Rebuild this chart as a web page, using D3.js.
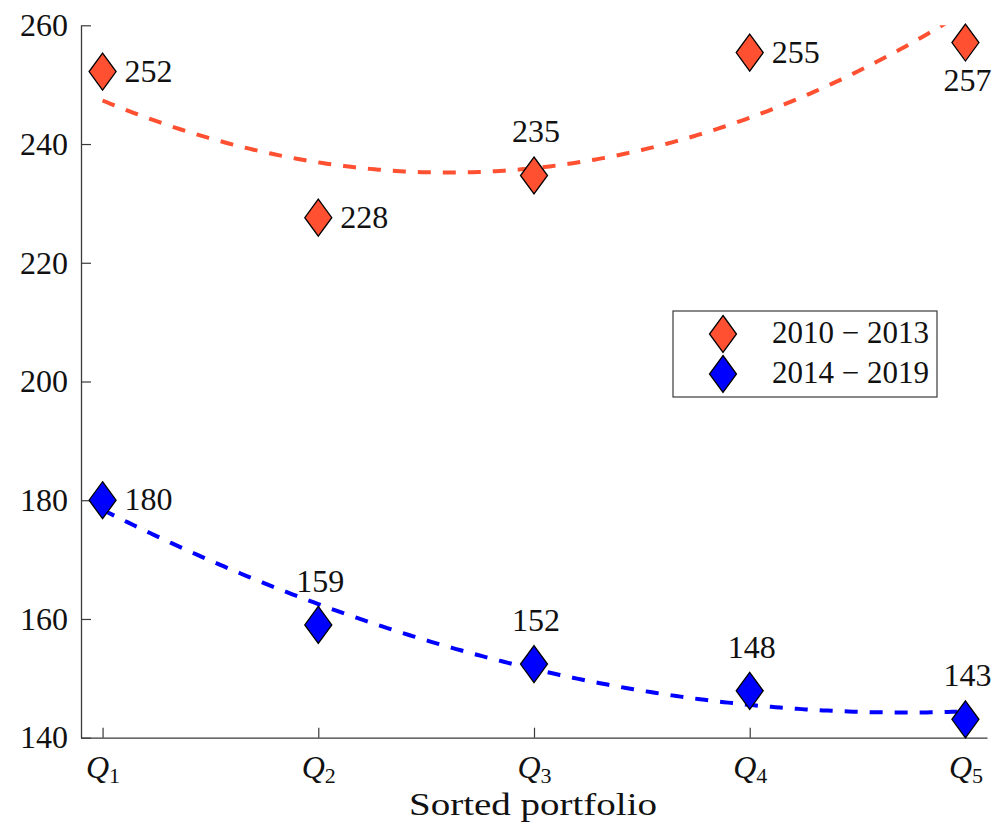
<!DOCTYPE html>
<html><head><meta charset="utf-8">
<script src="https://cdn.jsdelivr.net/npm/d3@7"></script>
<style>body{margin:0;background:#fff}</style>
</head><body>
<svg id="c" width="996" height="830"></svg>
<script>
// ---- data ----
const portfolios = [1, 2, 3, 4, 5];
const subscripts = ["1", "2", "3", "4", "5"];
const series2010 = [252.2, 227.6, 234.7, 255.4, 257.1];
const series2014 = [180.0, 159.0, 152.4, 147.9, 143.1];
const labels2010 = ["252", "228", "235", "255", "257"];
const labels2014 = ["180", "159", "152", "148", "143"];
const yTicks = [140, 160, 180, 200, 220, 240, 260];
const seriesNames = ["2010 \u2212 2013", "2014 \u2212 2019"];
const xTitle = "Sorted portfolio";

// ---- drawing ----
const FONT = "'Liberation Serif', 'Times New Roman', serif";
const RED = "#FF5031", BLUE = "#0000FF", AX = "#3a3a3a";
const svg = d3.select("#c");
const x = d3.scaleLinear().domain([0.9, 5.1]).range([81, 987]);
const y = d3.scaleLinear().domain([140, 260]).range([737.7, 25.3]);

svg.append("defs").append("clipPath").attr("id", "plotclip")
  .append("rect").attr("x", 81).attr("y", 25.3).attr("width", 906).attr("height", 712.4);

// quadratic least-squares trend from the data
function quadFit(xs, ys) {
  const S = k => d3.sum(xs, v => Math.pow(v, k));
  const T = k => d3.sum(xs, (v, i) => Math.pow(v, k) * ys[i]);
  const A = [[S(0), S(1), S(2)], [S(1), S(2), S(3)], [S(2), S(3), S(4)]];
  const b = [T(0), T(1), T(2)];
  // gaussian elimination
  for (let i = 0; i < 3; i++) {
    for (let j = i + 1; j < 3; j++) {
      const f = A[j][i] / A[i][i];
      for (let k = i; k < 3; k++) A[j][k] -= f * A[i][k];
      b[j] -= f * b[i];
    }
  }
  const c = [0, 0, 0];
  for (let i = 2; i >= 0; i--) {
    let s = b[i];
    for (let k = i + 1; k < 3; k++) s -= A[i][k] * c[k];
    c[i] = s / A[i][i];
  }
  return t => c[0] + c[1] * t + c[2] * t * t;
}

const line = d3.line().x(d => x(d[0])).y(d => y(d[1]));
const grid = d3.range(1, 5.0001, 0.02);
[[series2010, RED], [series2014, BLUE]].forEach(([s, col]) => {
  const f = quadFit(portfolios, s);
  svg.append("path").attr("clip-path", "url(#plotclip)")
    .attr("d", line(grid.map(t => [t, f(t)])))
    .attr("fill", "none").attr("stroke", col).attr("stroke-width", 4)
    .attr("stroke-dasharray", "13,12");
});

// axes
const yAxis = svg.append("g").attr("transform", "translate(81,0)")
  .call(d3.axisLeft(y).tickValues(yTicks).tickSizeInner(-10).tickSizeOuter(0).tickPadding(13));
const xAxis = svg.append("g").attr("transform", "translate(0,737.7)")
  .call(d3.axisBottom(x).tickValues(portfolios).tickSizeInner(-10).tickSizeOuter(0).tickFormat(""));
[yAxis, xAxis].forEach(g => {
  g.select(".domain").attr("stroke", AX).attr("stroke-width", 1.3);
  g.selectAll(".tick line").attr("stroke", AX).attr("stroke-width", 1.2);
  g.selectAll("text").attr("font-family", FONT).attr("font-size", 32).attr("fill", "#111");
});
xAxis.selectAll(".tick text").remove();
xAxis.selectAll(".tick").each(function (d, i) {
  const t = d3.select(this).append("text").attr("y", 40).attr("text-anchor", "middle")
    .attr("font-family", FONT).attr("font-size", 32).attr("fill", "#111");
  t.append("tspan").attr("font-style", "italic").text("Q");
  t.append("tspan").attr("font-size", 22).attr("dy", 5).text(subscripts[i]);
});

svg.append("text").attr("x", 533).attr("y", 815).attr("text-anchor", "middle")
  .attr("font-family", FONT).attr("font-size", 32).attr("fill", "#111")
  .attr("textLength", 248).attr("lengthAdjust", "spacingAndGlyphs").text(xTitle);

// markers
const diamond = "M0,-18.5L13.5,0L0,18.5L-13.5,0Z";
function markers(s, col) {
  svg.append("g").selectAll("path").data(s).join("path")
    .attr("d", diamond)
    .attr("transform", (d, i) => `translate(${x(portfolios[i])},${y(d)})`)
    .attr("fill", col).attr("stroke", "#000").attr("stroke-width", 1.3);
}
markers(series2010, RED);
markers(series2014, BLUE);

// value labels
const place2010 = ["right", "right", "above", "right", "below"];
const place2014 = ["right", "above", "above", "above", "above"];
function valueLabels(s, labs, place) {
  svg.append("g").selectAll("text").data(s).join("text")
    .attr("font-family", FONT).attr("font-size", 32).attr("fill", "#111")
    .attr("text-anchor", (d, i) => place[i] === "right" ? "start" : "middle")
    .attr("x", (d, i) => x(portfolios[i]) + (place[i] === "right" ? 22 : 2))
    .attr("y", (d, i) => y(d) + (place[i] === "right" ? 10 : place[i] === "above" ? -33 : 48))
    .text((d, i) => labs[i]);
}
valueLabels(series2010, labels2010, place2010);
valueLabels(series2014, labels2014, place2014);

// legend
const lg = svg.append("g");
lg.append("rect").attr("x", 673).attr("y", 311).attr("width", 264).attr("height", 86)
  .attr("fill", "#fff").attr("stroke", AX).attr("stroke-width", 1.2);
[RED, BLUE].forEach((col, i) => {
  const cy = 334 + i * 40;
  lg.append("path").attr("d", diamond).attr("transform", `translate(723,${cy})`)
    .attr("fill", col).attr("stroke", "#000").attr("stroke-width", 1.3);
  lg.append("text").attr("x", 772).attr("y", cy + 9)
    .attr("font-family", FONT).attr("font-size", 31).attr("fill", "#111")
    .text(seriesNames[i]);
});
</script>
</body></html>
